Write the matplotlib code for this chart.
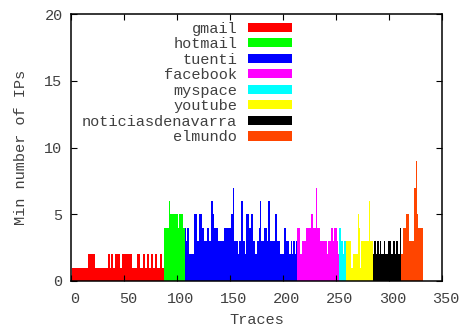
import matplotlib
matplotlib.use('Agg')
import matplotlib.pyplot as plt
import matplotlib.transforms as mtransforms
from matplotlib.patches import Patch

# Valeurs (une valeur par trace, traces consécutives)
gmail = [
    1, 1, 1, 1, 1, 1, 1, 1, 1, 1, 1, 1, 1, 1, 1, 1,
    2, 2, 2, 2, 2, 2,
    1, 1, 1, 1, 1, 1, 1, 1, 1, 1, 1, 1,
    2, 2, 1, 2, 2, 1, 1, 2, 2, 2, 2, 2, 1, 1,
    2, 2, 2, 2, 2, 2, 2, 2, 2,
    1, 1, 1, 1, 1, 2, 2, 2, 1, 1, 2, 2, 1, 1, 2, 2, 1, 1, 2, 2,
    1, 1, 2, 2, 1, 1, 2, 2, 1, 1,
]
hotmail = [4, 4, 4, 4, 4, 6, 5, 5, 5, 5, 5, 5, 5, 4, 5, 5, 5, 5, 4, 4]
tuenti = [
    4, 3, 4, 4, 2, 2, 2, 2, 2, 5,
    5, 3, 3, 5, 5, 5, 4, 4, 3, 3,
    3, 4, 4, 3, 3, 6, 5, 4, 4, 4,
    4, 3, 3, 3, 3, 3, 3, 4, 4, 4,
    4, 4, 4, 5, 5, 7, 3, 3, 3, 3,
    2, 3, 3, 6, 6, 3, 3, 2, 5, 5,
    4, 4, 5, 5, 3, 3, 2, 2, 3, 3,
    4, 6, 3, 3, 3, 4, 4, 3, 6, 6,
    3, 3, 3, 3, 3, 5, 5, 3, 3, 3,
    2, 2, 2, 4, 4, 3, 3, 3, 2, 2,
    3, 2, 3, 3, 2, 3,
]
facebook = [
    4, 4, 4, 2, 3, 3, 3, 3, 4, 4,
    4, 4, 4, 5, 5, 4, 4, 4, 7, 4,
    4, 3, 3, 3, 3, 3, 3, 3, 2, 3,
    3, 3, 4, 4, 3, 4, 4, 3, 2,
]
myspace = [4, 4, 3, 3, 2, 3, 3]
youtube = [3, 3, 3, 3, 3, 1, 1, 2, 2, 2, 2, 5, 4, 1, 3, 3, 3, 3, 3, 3, 3, 3, 6, 3, 3]
noticiasdenavarra = [2, 3, 3, 2, 3, 3, 2, 3, 2, 2, 2, 3, 2, 2, 2, 3, 3, 2, 2, 3, 3, 2, 3, 3, 2, 2, 4]
elmundo = [2, 2, 4, 4, 4, 5, 5, 3, 3, 3, 3, 3, 7, 7, 9, 5, 4, 4, 4, 4, 4]

noms = ['gmail', 'hotmail', 'tuenti', 'facebook', 'myspace', 'youtube',
        'noticiasdenavarra', 'elmundo']
series = [gmail, hotmail, tuenti, facebook, myspace, youtube,
          noticiasdenavarra, elmundo]
couleurs = ['#ff0000', '#00ff00', '#0000ff', '#ff00ff', '#00ffff', '#ffff00',
            '#000000', '#ff4500']

plt.rcParams['font.family'] = ['Liberation Mono', 'DejaVu Sans Mono']
plt.rcParams['font.size'] = 11
gris = '#404040'

fig = plt.figure(figsize=(4.61, 3.27), dpi=100)
ax = fig.add_axes([71 / 461, 1 - 281 / 327, 371 / 461, 267 / 327])

# Chaque trace est une boîte de largeur 1 centrée sur son numéro
debut = 1
for nom, vals, c in zip(noms, series, couleurs):
    bords = [debut - 0.5 + k for k in range(len(vals) + 1)]
    ax.stairs(vals, bords, fill=True, color=c, linewidth=0)
    debut += len(vals)

ax.set_xlim(0, 350)
ax.set_ylim(0, 20)
ax.set_xticks(range(0, 351, 50))
ax.set_yticks(range(0, 21, 5))
ax.tick_params(direction='in', length=4.5, width=0.8, top=True, right=True,
               labelcolor=gris, labelsize=11)
ax.tick_params(axis='x', pad=8)
ax.tick_params(axis='y', pad=6)
decal = mtransforms.ScaledTranslation(4 / 100, 0, fig.dpi_scale_trans)
for lab in ax.get_xticklabels():
    lab.set_transform(lab.get_transform() + decal)
for s in ax.spines.values():
    s.set_linewidth(1.1)

ax.set_xlabel('Traces', color=gris, labelpad=5)
ax.set_ylabel('Min number of IPs', color=gris, labelpad=12)

poignees = [Patch(facecolor=c, edgecolor='none') for c in couleurs]
ax.legend(poignees, noms, loc='upper right', bbox_to_anchor=(0.617, 1.0),
          frameon=False, markerfirst=False, handlelength=2.9, handleheight=0.55,
          handletextpad=0.7, labelspacing=0.1, borderpad=0, labelcolor=gris)

fig.savefig('out.png', dpi=100)
